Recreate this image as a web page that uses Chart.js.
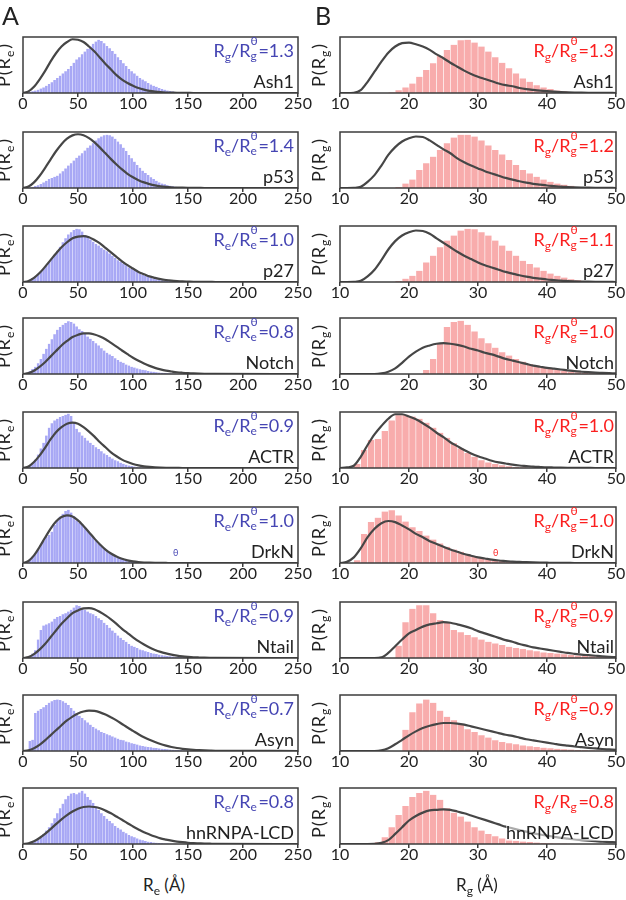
<!DOCTYPE html>
<html>
<head>
<meta charset="utf-8">
<script src="https://cdn.jsdelivr.net/npm/chart.js@4.4.1/dist/chart.umd.min.js"></script>
<style>
  body { margin: 0; background: #fff; }
  #fig { position: relative; width: 626px; height: 900px; overflow: hidden; font-family: Lato, sans-serif; color: #222; }
  #fig canvas { position: absolute; }
  .txt { position: absolute; white-space: nowrap; line-height: 1; }
  .sb { position: relative; top: 4px; font-size: 12px; }
  .ss { display: inline-block; position: relative; width: 8px; height: 0; }
  .ss i { position: absolute; left: 0; font-style: normal; font-size: 12px; line-height: 12px; }
  .ss .up { top: -22px; }
  .ss .dn { top: -7px; }
  .ylab { position: absolute; width: 80px; height: 18px; line-height: 18px; text-align: center;
          transform: rotate(-90deg); font-size: 18px; color: #222; white-space: nowrap; letter-spacing: 1px; }
  .ylab .sb { margin-right: 1px; }
</style>
</head>
<body>
<div id="fig"></div>
<script>
// proteins, one row each
const proteins = ['Ash1', 'p53', 'p27', 'Notch', 'ACTR', 'DrkN', 'Ntail', 'Asyn', 'hnRNPA-LCD'];
const reRatios = ['1.3', '1.4', '1.0', '0.8', '0.9', '1.0', '0.9', '0.7', '0.8'];
const rgRatios = ['1.3', '1.2', '1.1', '1.0', '1.0', '1.0', '0.9', '0.9', '0.8'];

// axes
const reTicksStep = 50;   // 0 .. 250
const rgTicksStep = 10;   // 10 .. 50
const reBinWidth = 2.5;   // histogram bins of P(Re), from 0
const rgBinWidth = 1;     // histogram bins of P(Rg), from 10

// theta-chain curves are sampled at these points
const reCurveX = [0, 5, 10, 15, 20, 25, 30, 35, 40, 45, 50, 55, 60, 65, 70, 75, 80, 85, 90, 95,
  100, 105, 110, 115, 120, 125, 130, 135, 140, 145, 150, 155, 160, 165, 170, 175, 250];
const rgCurveX = [10, 11, 12, 13, 14, 15, 16, 17, 18, 19, 20, 21, 22, 23, 24, 25, 26, 27, 28, 29,
  30, 31, 32, 33, 34, 35, 36, 37, 38, 39, 40, 41, 42, 43, 44, 45, 46, 47, 48, 49, 50];

/* ---- P(Re) histograms (2.5 A bins, 0-150 A) ---- */
const ash1ReHist = [0.005,0.01,0.02,0.03,0.045,0.06,0.08,0.1,0.13,0.16,
  0.19,0.23,0.27,0.31,0.35,0.39,0.43,0.48,0.54,0.6,
  0.64,0.69,0.74,0.79,0.83,0.88,0.92,0.95,0.93,0.89,
  0.84,0.8,0.75,0.7,0.64,0.59,0.53,0.48,0.43,0.39,
  0.35,0.31,0.27,0.24,0.21,0.18,0.15,0.13,0.11,0.09,
  0.07,0.06,0.045,0.035,0.028,0.02,0.015,0.01,0.007,0.005];
const p53ReHist = [0,0.003,0.01,0.02,0.035,0.05,0.07,0.1,0.13,0.16,
  0.18,0.2,0.22,0.26,0.3,0.35,0.4,0.44,0.49,0.54,
  0.58,0.62,0.67,0.72,0.76,0.8,0.85,0.89,0.92,0.94,
  0.95,0.94,0.92,0.88,0.83,0.78,0.72,0.66,0.59,0.53,
  0.47,0.41,0.36,0.31,0.27,0.23,0.19,0.16,0.13,0.1,
  0.08,0.065,0.05,0.04,0.03,0.022,0.016,0.011,0.008,0.005];
const p27ReHist = [0.005,0.02,0.04,0.07,0.1,0.14,0.18,0.23,0.29,0.35,
  0.41,0.48,0.56,0.63,0.71,0.78,0.85,0.89,0.93,0.95,
  0.94,0.9,0.84,0.8,0.76,0.72,0.68,0.65,0.61,0.58,
  0.55,0.51,0.47,0.43,0.39,0.36,0.33,0.3,0.26,0.23,
  0.21,0.18,0.15,0.13,0.11,0.09,0.075,0.062,0.05,0.04,
  0.032,0.025,0.019,0.014,0.01,0.008,0.006,0.004,0.003,0.002];
const notchReHist = [0.005,0.02,0.05,0.09,0.13,0.19,0.27,0.36,0.45,0.54,
  0.62,0.71,0.79,0.84,0.88,0.91,0.94,0.93,0.9,0.85,
  0.8,0.77,0.72,0.67,0.63,0.59,0.55,0.51,0.46,0.42,
  0.38,0.35,0.32,0.28,0.25,0.22,0.2,0.17,0.15,0.13,
  0.115,0.1,0.085,0.075,0.065,0.055,0.045,0.038,0.032,0.026,
  0.021,0.017,0.013,0.01,0.008,0.006,0.004,0.003,0.002,0.001];
const actrReHist = [0.005,0.02,0.05,0.09,0.15,0.24,0.35,0.45,0.58,0.72,
  0.8,0.85,0.88,0.91,0.93,0.95,0.97,0.93,0.82,0.7,
  0.64,0.58,0.54,0.49,0.45,0.41,0.37,0.34,0.3,0.26,
  0.23,0.2,0.17,0.14,0.12,0.095,0.075,0.06,0.045,0.035,
  0.027,0.02,0.015,0.011,0.008,0.006,0.004,0.003,0.002,0.001,
  0,0,0,0,0,0,0,0,0,0];
const drknReHist = [0.005,0.02,0.06,0.11,0.17,0.24,0.32,0.4,0.47,0.5,
  0.56,0.68,0.77,0.83,0.88,0.93,0.95,0.9,0.84,0.76,
  0.72,0.69,0.64,0.58,0.52,0.46,0.4,0.35,0.3,0.26,
  0.22,0.18,0.155,0.13,0.105,0.085,0.068,0.054,0.042,0.032,
  0.025,0.019,0.014,0.01,0.007,0.005,0.003,0.002,0,0,
  0,0,0,0,0,0,0,0,0,0];
const ntailReHist = [0.005,0.015,0.04,0.08,0.14,0.33,0.5,0.58,0.6,0.62,
  0.65,0.7,0.73,0.75,0.78,0.8,0.83,0.86,0.9,0.94,
  0.93,0.89,0.86,0.83,0.8,0.78,0.75,0.71,0.68,0.63,
  0.59,0.54,0.49,0.45,0.4,0.36,0.32,0.29,0.25,0.22,
  0.2,0.18,0.15,0.14,0.12,0.105,0.09,0.08,0.07,0.06,
  0.05,0.043,0.036,0.03,0.025,0.02,0.016,0.013,0.01,0.008];
const asynReHist = [0,0.02,0.18,0.2,0.68,0.72,0.75,0.78,0.82,0.86,
  0.89,0.91,0.92,0.91,0.89,0.86,0.82,0.77,0.72,0.67,
  0.63,0.59,0.55,0.51,0.47,0.43,0.4,0.37,0.34,0.32,
  0.3,0.28,0.26,0.24,0.22,0.2,0.19,0.17,0.155,0.14,
  0.13,0.115,0.1,0.09,0.08,0.072,0.065,0.058,0.052,0.046,
  0.04,0.035,0.03,0.026,0.022,0.019,0.016,0.013,0.011,0.009];
const hnrnpaReHist = [0,0.005,0.015,0.03,0.05,0.08,0.12,0.18,0.24,0.3,
  0.37,0.46,0.55,0.64,0.72,0.8,0.86,0.9,0.91,0.89,
  0.92,0.95,0.9,0.84,0.79,0.73,0.67,0.61,0.55,0.5,
  0.45,0.41,0.37,0.32,0.29,0.26,0.22,0.19,0.16,0.14,
  0.12,0.1,0.08,0.065,0.052,0.042,0.034,0.027,0.021,0.016,
  0.012,0.009,0.007,0.005,0.004,0.003,0.002,0.001,0,0];

/* ---- theta-state P(Re) curves, at reCurveX ---- */
const ash1ReCurve = [0,0.029,0.11,0.24,0.39,0.56,0.71,0.83,0.91,0.96,
  0.95,0.91,0.83,0.74,0.63,0.52,0.42,0.32,0.24,0.18,
  0.13,0.088,0.06,0.039,0.025,0.015,0.009,0.006,0.003,0.002,
  0.001,0,0,0,0,0,0];
const p53ReCurve = [0,0.026,0.1,0.215,0.356,0.508,0.656,0.783,0.88,0.94,
  0.96,0.942,0.89,0.814,0.721,0.619,0.516,0.42,0.331,0.254,
  0.191,0.14,0.1,0.07,0.047,0.031,0.02,0.013,0.008,0.005,
  0.003,0.002,0.001,0,0,0,0];
const p27ReCurve = [0,0.019,0.075,0.16,0.27,0.39,0.51,0.62,0.71,0.78,
  0.81,0.82,0.8,0.75,0.69,0.61,0.53,0.45,0.37,0.3,
  0.24,0.18,0.14,0.1,0.074,0.052,0.036,0.024,0.016,0.01,
  0.007,0.004,0.0025,0.0015,0.001,0,0];
const notchReCurve = [0,0.015,0.058,0.127,0.21,0.31,0.41,0.51,0.59,0.66,
  0.7,0.727,0.727,0.706,0.67,0.62,0.555,0.49,0.42,0.354,
  0.29,0.235,0.187,0.145,0.11,0.083,0.061,0.045,0.031,0.022,
  0.015,0.01,0.0066,0.0044,0.003,0.002,0];
const actrReCurve = [0,0.027,0.106,0.22,0.36,0.51,0.64,0.73,0.79,0.81,
  0.79,0.73,0.65,0.56,0.46,0.37,0.28,0.21,0.15,0.106,
  0.072,0.047,0.03,0.019,0.011,0.0065,0.0036,0.002,0.001,0,
  0,0,0,0,0,0,0];
const drknReCurve = [0,0.036,0.136,0.285,0.45,0.61,0.74,0.82,0.85,0.83,
  0.76,0.66,0.55,0.435,0.33,0.24,0.17,0.115,0.075,0.047,
  0.028,0.016,0.009,0.005,0.0026,0.0012,0.0006,0,0,0,
  0,0,0,0,0,0,0];
const ntailReCurve = [0,0.018,0.07,0.15,0.25,0.37,0.49,0.61,0.71,0.8,
  0.85,0.885,0.89,0.87,0.82,0.76,0.69,0.61,0.52,0.445,
  0.37,0.3,0.24,0.186,0.143,0.109,0.082,0.059,0.042,0.029,
  0.02,0.013,0.009,0.006,0.004,0.0025,0];
const asynReCurve = [0,0.013,0.05,0.11,0.19,0.28,0.37,0.46,0.545,0.615,
  0.67,0.705,0.72,0.715,0.69,0.65,0.6,0.546,0.483,0.42,
  0.36,0.3,0.246,0.2,0.16,0.124,0.096,0.072,0.053,0.039,
  0.028,0.02,0.014,0.0095,0.0065,0.0043,0];
const hnrnpaReCurve = [0,0.013,0.048,0.107,0.18,0.265,0.355,0.44,0.515,0.58,
  0.63,0.66,0.67,0.66,0.637,0.596,0.548,0.49,0.432,0.37,
  0.314,0.26,0.21,0.17,0.133,0.1,0.078,0.059,0.044,0.032,
  0.022,0.015,0.011,0.007,0.005,0.003,0];

/* ---- P(Rg) histograms (1 A bins, 10-50 A) ---- */
const ash1RgHist = [0,0,0,0,0,0,0,0.01,0.05,0.1,
  0.17,0.29,0.41,0.53,0.66,0.77,0.86,0.94,0.95,0.9,
  0.83,0.74,0.64,0.54,0.44,0.35,0.26,0.2,0.14,0.1,
  0.07,0.045,0.03,0.02,0.01,0.005,0.002,0,0,0];
const p53RgHist = [0,0,0,0,0,0,0,0,0.02,0.08,
  0.15,0.32,0.44,0.56,0.68,0.8,0.9,0.95,0.95,0.92,
  0.85,0.76,0.68,0.6,0.5,0.41,0.32,0.26,0.2,0.15,
  0.11,0.08,0.06,0.04,0.02,0.01,0.005,0,0,0];
const p27RgHist = [0,0,0,0,0,0,0,0,0.02,0.06,
  0.11,0.2,0.35,0.47,0.62,0.74,0.83,0.92,0.95,0.94,
  0.89,0.83,0.74,0.65,0.56,0.47,0.38,0.32,0.26,0.2,
  0.15,0.11,0.08,0.05,0.03,0.015,0.008,0.004,0,0];
const notchRgHist = [0,0,0,0,0,0,0,0,0,0,
  0,0,0.07,0.27,0.55,0.84,0.93,0.95,0.88,0.76,
  0.64,0.55,0.47,0.39,0.33,0.27,0.22,0.18,0.15,0.12,
  0.1,0.08,0.06,0.04,0.03,0.02,0.015,0.01,0.005,0.003];
const actrRgHist = [0,0,0.07,0.32,0.5,0.52,0.66,0.85,0.94,0.95,
  0.92,0.88,0.81,0.72,0.63,0.54,0.44,0.35,0.27,0.2,
  0.14,0.1,0.07,0.05,0.03,0.02,0.01,0.005,0,0,
  0,0,0,0,0,0,0,0,0,0];
const drknRgHist = [0,0,0.05,0.52,0.73,0.81,0.92,0.94,0.85,0.74,
  0.64,0.57,0.49,0.42,0.35,0.29,0.24,0.2,0.15,0.12,
  0.09,0.07,0.05,0.04,0.03,0.02,0.015,0.01,0.005,0,
  0,0,0,0,0,0,0,0,0,0];
const ntailRgHist = [0,0,0,0,0,0,0,0,0.22,0.64,
  0.88,0.94,0.94,0.8,0.68,0.64,0.5,0.46,0.41,0.37,
  0.33,0.29,0.26,0.23,0.2,0.18,0.16,0.14,0.12,0.1,
  0.09,0.08,0.065,0.055,0.045,0.035,0.03,0.025,0.02,0.015];
const asynRgHist = [0,0,0,0,0,0,0,0,0,0.38,
  0.69,0.85,0.92,0.86,0.72,0.61,0.55,0.47,0.39,0.34,
  0.28,0.24,0.19,0.16,0.14,0.12,0.1,0.085,0.07,0.06,
  0.05,0.04,0.03,0.025,0.02,0.015,0.01,0.008,0.005,0.003];
const hnrnpaRgHist = [0,0,0,0,0,0.03,0.12,0.3,0.52,0.68,
  0.84,0.91,0.95,0.88,0.79,0.64,0.56,0.49,0.4,0.3,
  0.24,0.18,0.14,0.1,0.08,0.06,0.045,0.035,0.025,0.02,
  0.015,0.01,0.008,0.005,0,0,0,0,0,0];

/* ---- theta-state P(Rg) curves, at rgCurveX ---- */
const ash1RgCurve = [0,0,0.005,0.05,0.2,0.38,0.56,0.72,0.83,0.89,
  0.9,0.87,0.83,0.77,0.69,0.62,0.54,0.47,0.4,0.34,
  0.29,0.25,0.21,0.17,0.14,0.12,0.09,0.07,0.055,0.042,
  0.032,0.024,0.018,0.013,0.009,0.006,0.004,0.003,0.002,0.001,0];
const p53RgCurve = [0,0,0.003,0.02,0.11,0.23,0.4,0.59,0.73,0.83,
  0.89,0.92,0.91,0.85,0.77,0.69,0.62,0.53,0.46,0.4,
  0.35,0.3,0.26,0.22,0.18,0.15,0.12,0.095,0.075,0.06,
  0.045,0.035,0.025,0.018,0.012,0.008,0.005,0.003,0.002,0.001,0];
const p27RgCurve = [0,0,0.003,0.02,0.1,0.22,0.39,0.58,0.73,0.83,
  0.89,0.92,0.91,0.86,0.78,0.7,0.62,0.54,0.47,0.41,
  0.35,0.3,0.26,0.22,0.18,0.15,0.12,0.095,0.075,0.06,
  0.045,0.035,0.025,0.018,0.012,0.008,0.005,0.003,0.002,0.001,0];
const notchRgCurve = [0,0,0,0,0,0,0.01,0.04,0.1,0.2,
  0.31,0.4,0.47,0.51,0.54,0.55,0.54,0.52,0.49,0.45,
  0.42,0.38,0.35,0.31,0.27,0.24,0.21,0.18,0.15,0.13,
  0.11,0.095,0.08,0.065,0.05,0.04,0.032,0.025,0.02,0.015,0.01];
const actrRgCurve = [0,0.01,0.04,0.2,0.41,0.6,0.75,0.88,0.96,0.96,
  0.92,0.87,0.8,0.72,0.63,0.55,0.46,0.39,0.32,0.26,
  0.21,0.17,0.13,0.1,0.08,0.06,0.045,0.035,0.025,0.018,
  0.012,0.009,0.006,0.004,0.003,0.002,0.001,0,0,0,0];
const drknRgCurve = [0,0.02,0.1,0.26,0.46,0.61,0.71,0.75,0.73,0.67,
  0.6,0.52,0.46,0.39,0.34,0.29,0.24,0.2,0.16,0.13,
  0.1,0.08,0.06,0.045,0.035,0.025,0.02,0.014,0.01,0.007,
  0.005,0.003,0.002,0.001,0,0,0,0,0,0,0];
const ntailRgCurve = [0,0,0,0,0,0,0.01,0.09,0.21,0.33,
  0.44,0.5,0.56,0.6,0.62,0.64,0.63,0.6,0.57,0.53,
  0.48,0.44,0.4,0.36,0.32,0.29,0.25,0.22,0.19,0.17,
  0.15,0.13,0.11,0.09,0.075,0.06,0.05,0.04,0.03,0.022,0.015];
const asynRgCurve = [0,0,0,0,0,0,0.01,0.05,0.12,0.2,
  0.28,0.35,0.41,0.45,0.48,0.5,0.5,0.49,0.47,0.44,
  0.41,0.38,0.35,0.32,0.29,0.27,0.24,0.21,0.19,0.17,
  0.15,0.13,0.11,0.095,0.08,0.068,0.056,0.046,0.036,0.028,0.02];
const hnrnpaRgCurve = [0,0,0,0,0,0.003,0.02,0.07,0.18,0.3,
  0.42,0.5,0.56,0.6,0.61,0.62,0.61,0.58,0.55,0.51,
  0.47,0.43,0.39,0.35,0.31,0.28,0.25,0.22,0.19,0.17,
  0.15,0.13,0.11,0.095,0.08,0.07,0.06,0.05,0.04,0.035,0.03];

const reHists = [ash1ReHist, p53ReHist, p27ReHist, notchReHist, actrReHist, drknReHist, ntailReHist, asynReHist, hnrnpaReHist];
const reCurves = [ash1ReCurve, p53ReCurve, p27ReCurve, notchReCurve, actrReCurve, drknReCurve, ntailReCurve, asynReCurve, hnrnpaReCurve];
const rgHists = [ash1RgHist, p53RgHist, p27RgHist, notchRgHist, actrRgHist, drknRgHist, ntailRgHist, asynRgHist, hnrnpaRgHist];
const rgCurves = [ash1RgCurve, p53RgCurve, p27RgCurve, notchRgCurve, actrRgCurve, drknRgCurve, ntailRgCurve, asynRgCurve, hnrnpaRgCurve];

// layout
const rowTops = [37, 132, 226, 318, 412, 507, 602, 695, 788];
const boxH = 56;
const blue = '#4545b3', red = '#fb1f1f';

Chart.defaults.font.family = 'Lato';
const fig = document.getElementById('fig');

// box round every plot
const boxPlugin = {
  id: 'box',
  afterDraw(chart) {
    const { ctx, chartArea: a } = chart;
    ctx.save();
    ctx.strokeStyle = '#3c3c3c';
    ctx.lineWidth = 1.5;
    ctx.strokeRect(a.left, a.top, a.right - a.left, a.bottom - a.top);
    ctx.restore();
  }
};

function panel(o) {
  const c = document.createElement('canvas');
  c.width = o.w; c.height = boxH + 26;
  c.style.left = o.left + 'px';
  c.style.top = (o.top - 2) + 'px';
  fig.appendChild(c);
  new Chart(c, {
    type: 'bar',
    data: {
      datasets: [{
        type: 'line',
        data: o.curveX.map((x, i) => ({ x: x, y: o.curve[i] })),
        borderColor: '#464646',
        borderWidth: 2.2,
        pointRadius: 0,
        cubicInterpolationMode: 'monotone',
        order: 0
      }, {
        type: 'bar',
        data: o.hist.map((y, i) => ({ x: o.binStart + (i + 0.5) * o.binW, y: y })),
        backgroundColor: o.barColor,
        borderColor: 'rgba(255,255,255,0.5)',
        borderWidth: { left: o.sep, right: o.sep, top: 0, bottom: 0 },
        barPercentage: 1,
        categoryPercentage: 1,
        grouped: false,
        order: 1
      }]
    },
    options: {
      responsive: false,
      animation: false,
      events: [],
      layout: { padding: { left: o.padL, right: o.padR, top: 2, bottom: 0 } },
      plugins: { legend: { display: false }, tooltip: { enabled: false } },
      scales: {
        x: {
          type: 'linear', min: o.min, max: o.max, offset: false,
          grid: { offset: false, drawOnChartArea: false, drawTicks: true, tickLength: 4, color: '#3c3c3c', lineWidth: 1.5 },
          border: { display: false },
          ticks: { stepSize: o.step, color: '#222', font: { size: 16 }, padding: -3, maxRotation: 0, autoSkip: false },
          afterFit(s) { s.height = 24; }
        },
        y: { display: false, min: 0, max: 1 }
      }
    },
    plugins: [boxPlugin]
  });
}

function text(html, opts) {
  const d = document.createElement('div');
  d.className = 'txt';
  d.innerHTML = html;
  d.style.fontSize = opts.size + 'px';
  d.style.color = opts.color || '#222';
  d.style.top = (opts.base - 0.887 * opts.size) + 'px';
  if (opts.right != null) d.style.right = (626 - opts.right) + 'px';
  if (opts.left != null) d.style.left = opts.left + 'px';
  if (opts.bg) { d.style.background = opts.bg; }
  fig.appendChild(d);
  return d;
}

function ratio(s, theta, val) {
  return 'R<span class="sb">' + s + '</span>/R<span class="ss"><i class="up">' + (theta ? '&theta;' : '') +
    '</i><i class="dn">' + s + '</i></span>=' + val;
}

function ylabel(s, cx, cy) {
  const d = document.createElement('div');
  d.className = 'ylab';
  d.innerHTML = 'P(R<span class="sb">' + s + '</span>)';
  d.style.left = (cx - 40) + 'px';
  d.style.top = (cy - 9) + 'px';
  fig.appendChild(d);
}

proteins.forEach((name, r) => {
  const top = rowTops[r];
  panel({ left: 0, w: 313, top: top, padL: 23, padR: 15, min: 0, max: 250, step: reTicksStep,
    binStart: 0, binW: reBinWidth, hist: reHists[r], curveX: reCurveX, curve: reCurves[r],
    barColor: '#a8a8f5', sep: 0.4 });
  panel({ left: 300, w: 326, top: top, padL: 40, padR: 10, min: 10, max: 50, step: rgTicksStep,
    binStart: 10, binW: rgBinWidth, hist: rgHists[r], curveX: rgCurveX, curve: rgCurves[r],
    barColor: '#f8acac', sep: 0.6 });

  const last = r === proteins.length - 1;
  text(ratio(r === 0 ? 'g' : 'e', !last, reRatios[r]), { right: 294, base: top + 20, size: 18, color: blue });
  text(ratio('g', !last, rgRatios[r]), { right: 614, base: top + 20, size: 18, color: red });
  text(name, { right: 294, base: top + 51, size: 18 });
  text(name, { right: 614, base: top + 51, size: 18, bg: last ? 'rgba(255,255,255,0.55)' : null });

  ylabel('e', 3, top + boxH / 2);
  ylabel('g', 318, top + boxH / 2);
});

// stray theta marks in the DrkN row
text('&theta;', { left: 173, base: 556, size: 9, color: blue });
text('&theta;', { left: 493, base: 556, size: 9, color: red });

// panel letters and axis titles
text('A', { left: 2, base: 25, size: 25 });
text('B', { left: 315, base: 25, size: 25 });
text('R<span class="sb">e</span> (&Aring;)', { left: 143, base: 891, size: 17 });
text('R<span class="sb">g</span> (&Aring;)', { left: 456, base: 891, size: 17 });
</script>
</body>
</html>
